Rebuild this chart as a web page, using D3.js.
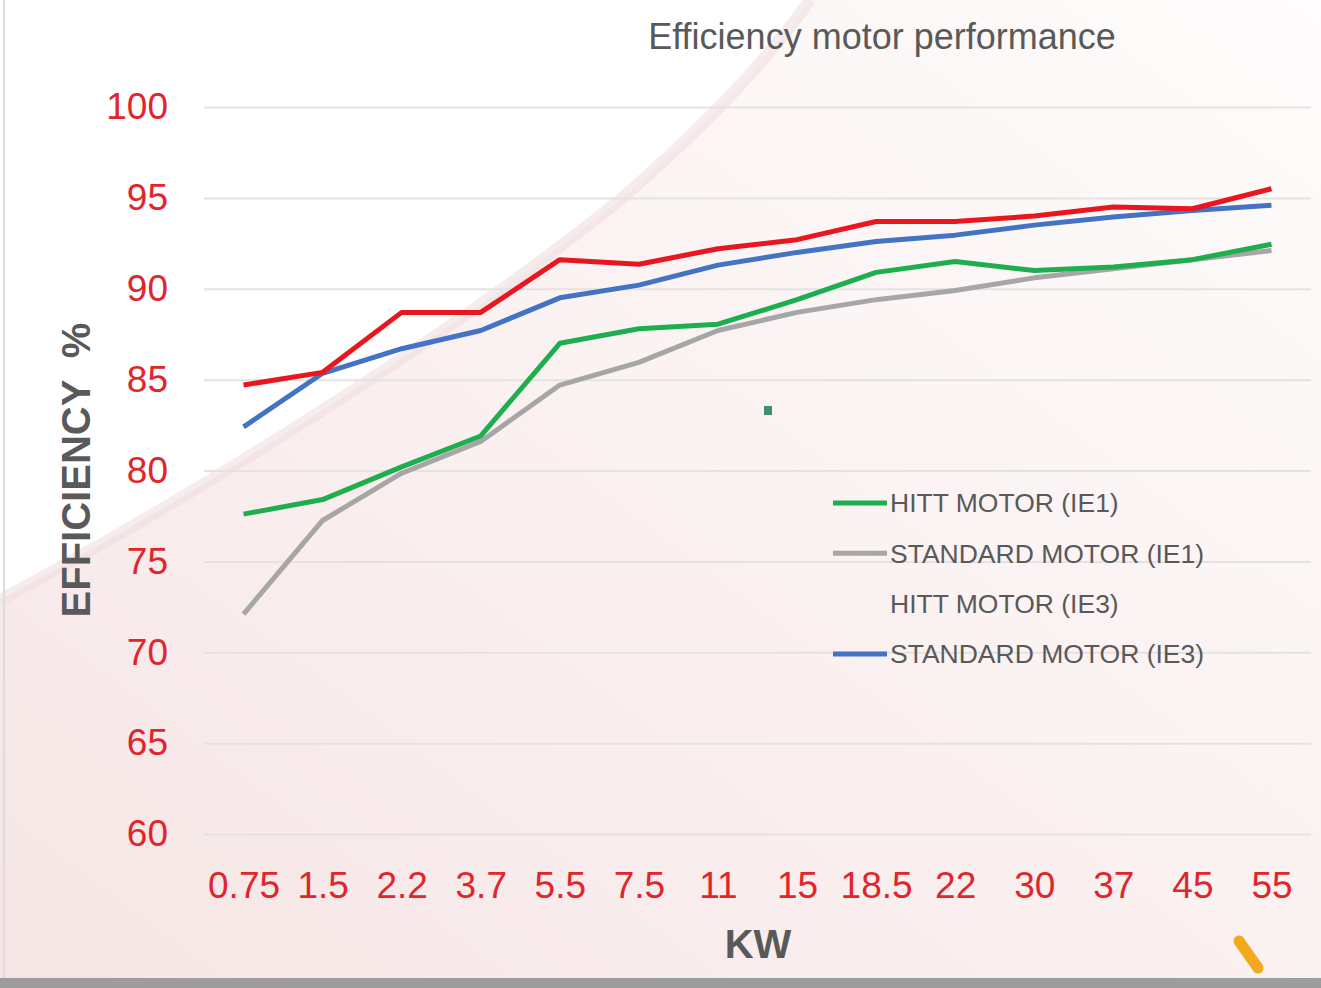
<!DOCTYPE html>
<html>
<head>
<meta charset="utf-8">
<script src="https://cdnjs.cloudflare.com/ajax/libs/d3/7.8.5/d3.min.js"></script>
<style>
  body { margin: 0; background: #ffffff; }
  #visualize { width: 1321px; height: 988px; }
  text { font-family: "Liberation Sans", "DejaVu Sans", sans-serif; }
</style>
</head>
<body>
<div id="visualize"></div>
<script>
// Chart data
var kwLabels = ["0.75", "1.5", "2.2", "3.7", "5.5", "7.5", "11", "15", "18.5", "22", "30", "37", "45", "55"];
var yTicks = [60, 65, 70, 75, 80, 85, 90, 95, 100];

var hittIE1     = [77.6, 78.4, 80.2, 81.9, 87.0, 87.8, 88.05, 89.4, 90.9, 91.5, 91.0, 91.2, 91.6, 92.45];
var standardIE1 = [72.1, 77.25, 79.85, 81.6, 84.7, 85.95, 87.7, 88.7, 89.4, 89.9, 90.6, 91.1, 91.6, 92.1];
var hittIE3     = [84.7, 85.4, 88.7, 88.7, 91.6, 91.35, 92.2, 92.7, 93.7, 93.7, 94.0, 94.5, 94.4, 95.5];
var standardIE3 = [82.4, 85.35, 86.7, 87.7, 89.5, 90.2, 91.3, 92.0, 92.6, 92.95, 93.5, 93.95, 94.3, 94.6];

var seriesNames = ["HITT MOTOR (IE1)", "STANDARD MOTOR (IE1)", "HITT MOTOR (IE3)", "STANDARD MOTOR (IE3)"];
var seriesValues = [hittIE1, standardIE1, hittIE3, standardIE3];
var seriesColors = ["#1fae4f", "#a6a6a6", "#e8161e", "#4472c4"];
var legendSwatch = [true, true, false, true];
var drawOrder = [1, 0, 3, 2];

// Draw Line Chart
function drawLineChart() {

  var margin = {top: 107, left: 204, right: 10, bottom: 154};
  var width = 1321 - margin.left - margin.right;
  var height = 988 - margin.top - margin.bottom;

  var root = d3.select("#visualize").append("svg")
      .attr("width", 1321)
      .attr("height", 988);

  // background (photo of a screen)
  var defs = root.append("defs");
  var grad = defs.append("linearGradient")
      .attr("id", "pinkShade")
      .attr("x1", "0").attr("y1", "1").attr("x2", "1").attr("y2", "0");
  grad.append("stop").attr("offset", "0").attr("stop-color", "#f6e5e5");
  grad.append("stop").attr("offset", "0.55").attr("stop-color", "#fbf2f2");
  grad.append("stop").attr("offset", "1").attr("stop-color", "#fefcfc");

  root.append("rect")
      .attr("width", 1321).attr("height", 988)
      .attr("fill", "#ffffff");

  root.append("path")
      .attr("d", "M0,600 C150,520 420,360 620,200 C700,130 760,70 810,0 L1321,0 L1321,988 L0,988 Z")
      .attr("fill", "url(#pinkShade)");

  root.append("path")
      .attr("d", "M0,600 C150,520 420,360 620,200 C700,130 760,70 810,0")
      .attr("fill", "none")
      .attr("stroke", "#eddada")
      .attr("stroke-width", 12)
      .attr("opacity", 0.5);

  root.append("line")
      .attr("x1", 4).attr("x2", 4).attr("y1", 0).attr("y2", 978)
      .attr("stroke", "#dcdcdc").attr("stroke-width", 2);

  var svg = root.append("g")
      .attr("transform", "translate(" + margin.left + "," + margin.top + ")");

  var x = d3.scalePoint()
      .domain(kwLabels)
      .range([0, width])
      .padding(0.5);

  var y = d3.scaleLinear()
      .domain([60, 100])
      .range([height, 0]);

  // gridlines
  svg.append("g")
      .attr("class", "grid")
      .call(d3.axisLeft(y).tickValues(yTicks).tickSize(-width).tickFormat(""))
      .call(function(g) { g.select(".domain").remove(); })
      .selectAll("line")
      .attr("stroke", "#e6e2e2")
      .attr("stroke-width", 2);

  // y axis
  svg.append("g")
      .attr("class", "y axis")
      .call(d3.axisLeft(y).tickValues(yTicks).tickSize(0).tickPadding(36))
      .call(function(g) { g.select(".domain").remove(); })
      .selectAll("text")
      .attr("fill", "#e0252c")
      .style("font-size", "37px");

  // x axis
  svg.append("g")
      .attr("class", "x axis")
      .attr("transform", "translate(0," + height + ")")
      .call(d3.axisBottom(x).tickSize(0).tickPadding(38))
      .call(function(g) { g.select(".domain").remove(); })
      .selectAll("text")
      .attr("fill", "#e0252c")
      .style("font-size", "37px");

  // lines
  var line = d3.line()
      .x(function(d, i) { return x(kwLabels[i]); })
      .y(function(d) { return y(d); });

  svg.selectAll(".series")
      .data(drawOrder)
    .enter().append("path")
      .attr("class", "series")
      .attr("fill", "none")
      .attr("stroke", function(k) { return seriesColors[k]; })
      .attr("stroke-width", 5)
      .attr("stroke-linejoin", "round")
      .attr("d", function(k) { return line(seriesValues[k]); });

  // title
  root.append("text")
      .attr("x", 882)
      .attr("y", 49)
      .style("text-anchor", "middle")
      .style("font-size", "36px")
      .attr("fill", "#595959")
      .text("Efficiency motor performance");

  // axis titles
  root.append("text")
      .attr("x", 758)
      .attr("y", 958)
      .style("text-anchor", "middle")
      .style("font-size", "40px")
      .style("font-weight", "bold")
      .attr("fill", "#595959")
      .text("KW");

  root.append("text")
      .attr("transform", "rotate(-90)")
      .attr("x", -470)
      .attr("y", 90)
      .style("text-anchor", "middle")
      .style("font-size", "40px")
      .style("font-weight", "bold")
      .style("white-space", "pre")
      .attr("fill", "#595959")
      .text("EFFICIENCY  %");

  // legend
  var legend = root.selectAll(".legend")
      .data(seriesNames)
    .enter().append("g")
      .attr("class", "legend")
      .attr("transform", function(d, i) { return "translate(833," + (503 + i * 50.3) + ")"; });

  legend.filter(function(d, i) { return legendSwatch[i]; })
    .append("line")
      .attr("x1", 0).attr("x2", 54)
      .attr("stroke", function(d) { return seriesColors[seriesNames.indexOf(d)]; })
      .attr("stroke-width", 5);

  legend.append("text")
      .attr("x", 57)
      .attr("dy", ".35em")
      .style("font-size", "26.5px")
      .attr("fill", "#595959")
      .text(function(d) { return d; });

  // stray marks in the photo
  root.append("rect")
      .attr("x", 764).attr("y", 406).attr("width", 8).attr("height", 9)
      .attr("fill", "#3f8f6a");
  root.append("rect")
      .attr("x", 0).attr("y", 978).attr("width", 1321).attr("height", 10)
      .attr("fill", "#9c9c9c");
  root.append("line")
      .attr("x1", 1239).attr("y1", 941).attr("x2", 1258).attr("y2", 968)
      .attr("stroke", "#f2aa1c")
      .attr("stroke-width", 11)
      .attr("stroke-linecap", "round");
}

drawLineChart();
</script>
</body>
</html>
